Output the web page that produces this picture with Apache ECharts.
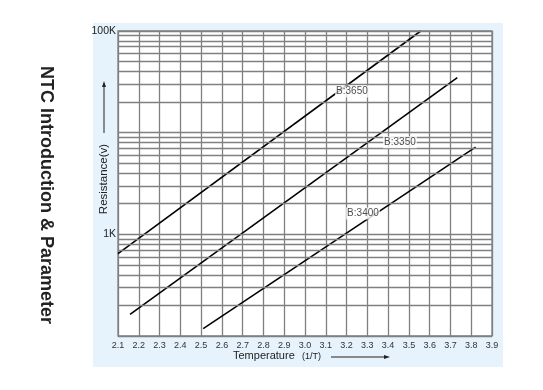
<!DOCTYPE html>
<html>
<head>
<meta charset="utf-8">
<script src="https://cdn.jsdelivr.net/npm/echarts@6/dist/echarts.min.js"></script>
<style>html,body{margin:0;padding:0;background:#fff;}#c{width:543px;height:390px;}</style>
</head>
<body>
<div id="c"></div>
<script>
// ---- data ----
const xMin = 2.1, xMax = 3.9, xStep = 0.1;
const yMin = 100, yMax = 100000;
const yTickLabels = {100000: '100K', 1000: '1K'};
const yGridValues = [100,200,300,400,500,600,700,800,900,
  1000,2000,3000,4000,5000,6000,7000,8000,9000,
  10000,20000,30000,40000,50000,60000,70000,80000,90000,100000];
const curveNames = ['B:3650', 'B:3350', 'B:3400'];
const curveB3650 = [[2.1, 645], [3.557, 100000]];
const curveB3350 = [[2.158, 163], [3.733, 34750]];
const curveB3400 = [[2.51, 118], [3.821, 7215]];
const curveLabelPos = [[3.226, 25470], [3.457, 8030], [3.279, 1607]];
const titleText = 'NTC Introduction & Parameter';
const yName = 'Resistance(v)';
const xName = 'Temperature';
const xNameUnit = '(1/T)';

const chart = echarts.init(document.getElementById('c'), null, {renderer: 'canvas'});
const gridColor = '#808080';
const curves = [curveB3650, curveB3350, curveB3400];

const series = [];
series.push({
  type: 'line', data: [], z: 1, silent: true,
  markLine: {
    silent: true, symbol: 'none', animation: false,
    label: {show: false},
    lineStyle: {color: gridColor, width: 1.3, type: 'solid'},
    data: yGridValues.map(v => ({yAxis: v}))
  }
});
curves.forEach((d, i) => {
  series.push({
    type: 'line', name: curveNames[i], data: d, z: 3,
    symbol: 'none', animation: false,
    lineStyle: {color: '#000', width: 1.6}
  });
});
series.push({
  type: 'scatter', z: 5, animation: false, silent: true,
  symbolSize: 1, itemStyle: {color: 'rgba(0,0,0,0)'},
  data: curveLabelPos.map((p, i) => ({value: p, name: curveNames[i]})),
  label: {
    show: true, position: 'inside', formatter: p => p.name,
    fontFamily: 'Liberation Sans', fontSize: 10, color: '#222',
    backgroundColor: '#fff', padding: [1, 1]
  }
});

chart.setOption({
  animation: false,
  backgroundColor: '#fff',
  grid: {left: 118, right: 51, top: 31, bottom: 54, show: true,
         backgroundColor: '#fff', borderColor: gridColor, borderWidth: 1.3, z: 0},
  xAxis: {
    type: 'value', min: xMin, max: xMax, interval: xStep,
    axisLine: {show: false}, axisTick: {show: false},
    axisLabel: {fontFamily: 'Liberation Sans', fontSize: 9, color: '#333', margin: 5,
                formatter: v => v.toFixed(1)},
    splitLine: {show: true, lineStyle: {color: gridColor, width: 1.3}}
  },
  yAxis: {
    type: 'log', logBase: 10, min: yMin, max: yMax,
    axisLine: {show: false}, axisTick: {show: false},
    axisLabel: {fontFamily: 'Liberation Sans', fontSize: 10.5, color: '#222', margin: 2,
                formatter: v => yTickLabels[Math.round(v)] || ''},
    splitLine: {show: false}
  },
  graphic: [
    {type: 'rect', z: -10, silent: true,
     shape: {x: 93, y: 23, width: 410, height: 344},
     style: {fill: '#e6f3fc'}},
    {type: 'text', x: 46, y: 195, rotation: -Math.PI / 2, z: 10,
     style: {text: titleText, fontFamily: 'Liberation Sans', fontWeight: 'bold',
             fontSize: 18, fill: '#222', align: 'center', verticalAlign: 'middle'}},
    {type: 'text', x: 104, y: 179, rotation: Math.PI / 2, z: 10,
     style: {text: yName, fontFamily: 'Liberation Sans', fontSize: 11.5, fill: '#222',
             align: 'center', verticalAlign: 'middle'}},
    {type: 'line', z: 10, shape: {x1: 104, y1: 133, x2: 104, y2: 86},
     style: {stroke: '#222', lineWidth: 1}},
    {type: 'polygon', z: 10, shape: {points: [[104, 81], [102, 87], [106, 87]]},
     style: {fill: '#222'}},
    {type: 'text', x: 233, y: 356, z: 10,
     style: {text: xName, fontFamily: 'Liberation Sans', fontSize: 11, fill: '#222',
             align: 'left', verticalAlign: 'middle'}},
    {type: 'text', x: 302, y: 357, z: 10,
     style: {text: xNameUnit, fontFamily: 'Liberation Sans', fontSize: 9, fill: '#222',
             align: 'left', verticalAlign: 'middle'}},
    {type: 'line', z: 10, shape: {x1: 331, y1: 357, x2: 385, y2: 357},
     style: {stroke: '#222', lineWidth: 1}},
    {type: 'polygon', z: 10, shape: {points: [[390, 357], [384, 355], [384, 359]]},
     style: {fill: '#222'}}
  ],
  series: series
});
</script>
</body>
</html>
